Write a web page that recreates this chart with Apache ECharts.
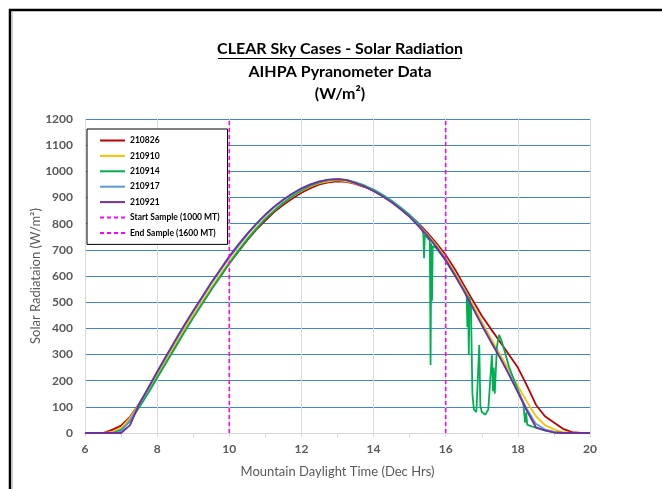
<!DOCTYPE html>
<html>
<head>
<meta charset="utf-8">
<script src="https://cdn.jsdelivr.net/npm/echarts@6/dist/echarts.min.js"></script>
<style>
  html, body { margin: 0; padding: 0; background: #fff; }
  #chart { width: 662px; height: 489px; }
</style>
</head>
<body>
<div id="chart"></div>
<script>
// time of day, decimal hours (MDT)
var hours = [6, 6.25, 6.5, 6.75, 7, 7.25, 7.5, 7.75, 8, 8.25, 8.5, 8.75, 9, 9.25, 9.5, 9.75,
  10, 10.25, 10.5, 10.75, 11, 11.25, 11.5, 11.75, 12, 12.25, 12.5, 12.75, 13, 13.25, 13.5, 13.75,
  14, 14.25, 14.5, 14.75, 15, 15.25, 15.5, 15.75, 16, 16.25, 16.5, 16.75, 17, 17.25, 17.5, 17.75,
  18, 18.25, 18.5, 18.75, 19, 19.25, 19.5, 19.75, 20];

var s210826 = [0, 0, 0, 12, 28, 62, 112, 165, 220, 276, 332, 388, 443, 496, 548, 598,
  648, 693, 737, 777, 812, 845, 872, 896, 918, 936, 950, 958, 962, 960, 952, 940,
  925, 906, 884, 858, 832, 800, 764, 724, 680, 627, 566, 507, 448, 398, 350, 300,
  250, 182, 108, 64, 40, 16, 3, 0, 0];
var s210910 = [0, 0, 0, 3, 20, 58, 110, 165, 222, 280, 338, 395, 450, 503, 556, 606,
  655, 700, 744, 784, 820, 852, 880, 904, 925, 942, 955, 962, 966, 962, 954, 942,
  926, 906, 883, 856, 827, 794, 757, 716, 670, 614, 553, 490, 425, 362, 302, 242,
  180, 120, 64, 30, 14, 3, 0, 0, 0];
var s210917 = [0, 0, 0, 0, 5, 50, 107, 168, 230, 290, 350, 408, 463, 517, 571, 621,
  670, 715, 758, 797, 832, 863, 890, 913, 933, 949, 961, 967, 970, 966, 956, 943,
  927, 907, 884, 857, 828, 793, 755, 712, 664, 607, 546, 482, 415, 352, 292, 228,
  158, 92, 35, 14, 4, 0, 0, 0, 0];
var s210921 = [0, 0, 0, 0, 0, 30, 110, 172, 234, 294, 354, 412, 467, 521, 575, 625,
  675, 720, 762, 800, 835, 866, 892, 915, 935, 950, 962, 968, 970, 966, 955, 942,
  925, 905, 882, 855, 826, 790, 752, 709, 660, 604, 543, 478, 412, 349, 289, 224,
  155, 85, 22, 10, 2, 0, 0, 0, 0];

// 210914 has cloud dips in the afternoon, so it gets its own finer time list
var hours210914 = [6, 6.25, 6.5, 6.75, 7, 7.25, 7.5, 7.75, 8, 8.25, 8.5, 8.75, 9, 9.25, 9.5, 9.75,
  10, 10.25, 10.5, 10.75, 11, 11.25, 11.5, 11.75, 12, 12.25, 12.5, 12.75, 13, 13.25, 13.5, 13.75,
  14, 14.25, 14.5, 14.75, 15, 15.25, 15.35, 15.38, 15.4, 15.42, 15.5, 15.56, 15.58, 15.6, 15.62, 15.64,
  15.75, 16, 16.25, 16.5, 16.58, 16.6, 16.62, 16.64, 16.66, 16.7, 16.74, 16.78, 16.85, 16.9, 16.93, 16.96,
  17, 17.1, 17.18, 17.28, 17.31, 17.33, 17.36, 17.42, 17.48, 17.55, 17.65, 17.75, 17.9, 18.05, 18.15, 18.2,
  18.23, 18.26, 18.32, 18.5, 18.75, 19, 19.25, 20];
var s210914 = [0, 0, 0, 0, 12, 45, 97, 152, 210, 268, 326, 384, 440, 494, 547, 598,
  648, 695, 740, 780, 818, 850, 880, 905, 927, 945, 958, 966, 970, 967, 958, 946,
  930, 910, 888, 862, 833, 800, 775, 760, 668, 758, 745, 735, 260, 725, 505, 715,
  705, 658, 603, 548, 530, 405, 525, 298, 520, 480, 150, 90, 80, 82, 336, 105,
  80, 70, 90, 298, 160, 250, 150, 330, 375, 352, 305, 255, 200, 150, 115, 40,
  78, 32, 28, 20, 10, 2, 0, 0];

var sampleStart = 10;
var sampleEnd = 16;
var yTop = 1200;

function pairs(xs, ys) {
  return xs.map(function (x, i) { return [x, ys[i]]; });
}

var font = 'Lato, "Liberation Sans", sans-serif';
var chart = echarts.init(document.getElementById('chart'));

function dataLine(name, xs, ys, color, width) {
  return {
    name: name, type: 'line', data: pairs(xs, ys),
    symbol: 'none', smooth: false,
    lineStyle: { color: color, width: width },
    itemStyle: { color: color },
    emphasis: { disabled: true }
  };
}
function sampleLine(name, x) {
  return {
    name: name, type: 'line', data: [[x, 0], [x, yTop]],
    symbol: 'none',
    lineStyle: { color: '#FF00FF', width: 1.6, type: [4, 3] },
    itemStyle: { color: '#FF00FF' },
    emphasis: { disabled: true }
  };
}

chart.setOption({
  animation: false,
  backgroundColor: '#fff',
  textStyle: { fontFamily: font },
  grid: { left: 85, right: 72, top: 119, bottom: 56 },
  graphic: [
    { type: 'rect', shape: { x: 10, y: 10, width: 700, height: 520 },
      style: { fill: 'none', stroke: '#000', lineWidth: 2.5 } },
    { type: 'line', shape: { x1: 12.5, y1: 12, x2: 12.5, y2: 489 },
      style: { stroke: '#d0d0d0', lineWidth: 1 } },
    { type: 'text', x: 340, y: 49, style: { text: 'CLEAR Sky Cases - Solar Radiation',
      font: 'bold 16px ' + font, fill: '#000', textAlign: 'center', textVerticalAlign: 'middle' } },
    { type: 'line', shape: { x1: 218, y1: 58.5, x2: 461, y2: 58.5 },
      style: { stroke: '#000', lineWidth: 1.2 } },
    { type: 'text', x: 340, y: 72, style: { text: 'AIHPA Pyranometer Data',
      font: 'bold 16px ' + font, fill: '#000', textAlign: 'center', textVerticalAlign: 'middle' } },
    { type: 'text', x: 340, y: 94, style: { text: '(W/m²)',
      font: 'bold 16px ' + font, fill: '#000', textAlign: 'center', textVerticalAlign: 'middle' } }
  ],
  legend: {
    orient: 'vertical', left: 87, top: 129,
    backgroundColor: '#fff', borderColor: '#000', borderWidth: 1,
    padding: [7, 8, 7, 12], itemWidth: 25, itemHeight: 10, itemGap: 6.4,
    itemStyle: { opacity: 0 },
    textStyle: { fontSize: 8.5, fontWeight: 'bold', color: '#000', fontFamily: font },
    data: ['210826', '210910', '210914', '210917', '210921',
      'Start Sample (1000 MT)', 'End Sample (1600 MT)']
  },
  xAxis: {
    type: 'value', min: 6, max: 20, interval: 2,
    name: 'Mountain Daylight Time (Dec Hrs)', nameLocation: 'middle', nameGap: 32,
    nameMoveOverlap: false,
    nameTextStyle: { fontSize: 13, color: '#595959', fontFamily: font },
    axisLine: { show: true, lineStyle: { color: '#D9D9D9', width: 1 } },
    axisTick: { show: true, length: 4, lineStyle: { color: '#D9D9D9' } },
    minorTick: { show: true, splitNumber: 2, length: 4, lineStyle: { color: '#D9D9D9' } },
    splitLine: { show: true, lineStyle: { color: '#D9D9D9', width: 1 } },
    axisLabel: { fontSize: 12, fontWeight: 'bold', color: '#595959', margin: 10, fontFamily: font }
  },
  yAxis: {
    type: 'value', min: 0, max: yTop, interval: 100,
    name: 'Solar Radiataion (W/m²)', nameLocation: 'middle', nameGap: 43, nameRotate: 90,
    nameMoveOverlap: false,
    nameTextStyle: { fontSize: 13, color: '#595959', fontFamily: font },
    axisLine: { show: true, lineStyle: { color: '#D9D9D9', width: 1 } },
    axisTick: { show: false },
    splitLine: { show: true, lineStyle: { color: '#3A87CC', width: 1 } },
    axisLabel: { fontSize: 12, fontWeight: 'bold', color: '#595959', margin: 12, fontFamily: font,
      formatter: function (v) { return String(v); } }
  },
  series: [
    dataLine('210826', hours, s210826, '#C00000', 1.8),
    dataLine('210910', hours, s210910, '#FFC000', 1.8),
    dataLine('210914', hours210914, s210914, '#00B050', 1.8),
    dataLine('210917', hours, s210917, '#5B9BD5', 1.8),
    dataLine('210921', hours, s210921, '#7030A0', 1.8),
    sampleLine('Start Sample (1000 MT)', sampleStart),
    sampleLine('End Sample (1600 MT)', sampleEnd)
  ]
});
</script>
</body>
</html>
